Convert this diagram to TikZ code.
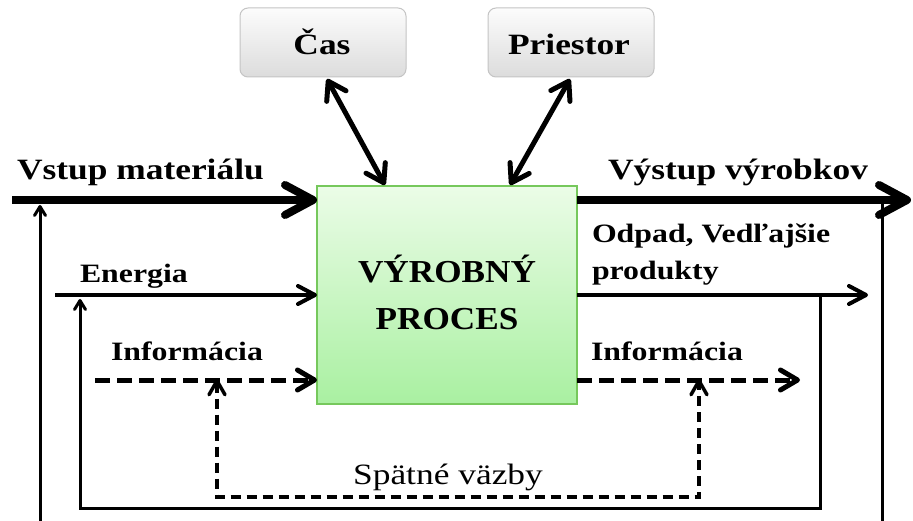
\documentclass[tikz,border=0pt]{standalone}
\usepackage{fontspec}
\setmainfont{Liberation Serif}[FakeStretch=1.2]
\newfontfamily\procfont{Liberation Serif}[FakeStretch=1.1]
\usetikzlibrary{arrows.meta}

\definecolor{procTop}{HTML}{EBFCE7}
\definecolor{procBot}{HTML}{A9F0A1}
\definecolor{procLine}{HTML}{76C85C}
\definecolor{tagTop}{HTML}{FCFCFC}
\definecolor{tagBot}{HTML}{DCDCDC}
\definecolor{tagLine}{HTML}{C4C4C4}

\begin{document}
\begin{tikzpicture}[x=1pt,y=-1pt,
  every node/.style={inner sep=0pt,outer sep=0pt},
  procbox/.style={draw=procLine,line width=1.2pt,top color=procTop,bottom color=procBot,
    minimum width=260pt,minimum height=218pt},
  tagbox/.style={draw=tagLine,line width=1pt,rounded corners=8pt,top color=tagTop,bottom color=tagBot,
    minimum width=166pt,minimum height=69pt},
  lbl/.style={font=\fontsize{26.5}{30}\selectfont\bfseries,anchor=base west},
  biglbl/.style={font=\fontsize{29.5}{34}\selectfont\bfseries,anchor=base west},
  tagtxt/.style={font=\fontsize{29.5}{34}\selectfont\bfseries,anchor=base},
  proctxt/.style={font=\procfont\fontsize{32}{38}\selectfont\bfseries,anchor=base},
  mainflow/.style={line width=8pt,line cap=butt,-{Straight Barb[length=28pt,width=30pt,round]}},
  medflow/.style={line width=4pt,line cap=butt,-{Straight Barb[length=17pt,width=18pt,round]}},
  infoflow/.style={line width=5pt,line cap=butt,dash pattern=on 15pt off 7pt,
    -{Straight Barb[length=17pt,width=20pt,round]}},
  loopline/.style={line width=3pt,line join=miter},
  looptip/.style={-{Straight Barb[length=9pt,width=11pt,round]}},
  fbline/.style={line width=3.5pt,dash pattern=on 10pt off 6pt,
    {Straight Barb[length=14pt,width=16pt,round]}-{Straight Barb[length=14pt,width=16pt,round]}},
  linkarrow/.style={line width=5pt,
    {Straight Barb[length=17pt,width=22pt,round]}-{Straight Barb[length=17pt,width=22pt,round]}}
]
\useasboundingbox (0,0) rectangle (913,521);
\clip (0,0) rectangle (913,521);

% central process block
\node[procbox] (proc) at (447,295) {};
\node[proctxt] (procA) at (447,283) {VÝROBNÝ};
\node[proctxt] (procB) at (447,330) {PROCES};

% time and space boxes
\node[tagbox] (cas) at (323,42.5) {};
\node[tagtxt] (casT) at (322,55) {Čas};
\node[tagbox] (pri) at (571,42.5) {};
\node[tagtxt] (priT) at (569,55) {Priestor};

\coordinate (casA) at (327,79);
\coordinate (casB) at (385,185);
\coordinate (priA) at (570,79);
\coordinate (priB) at (510,185);
\draw[linkarrow] (casA) -- (casB);
\draw[linkarrow] (priA) -- (priB);

% labels
\node[biglbl] (inT) at (17,180) {Vstup materiálu};
\node[biglbl] (outT) at (608,180) {Výstup výrobkov};
\node[lbl] (enT) at (80,283) {Energia};
\node[lbl] (wasteA) at (592,243) {Odpad, Vedľajšie};
\node[lbl] (wasteB) at (592,280) {produkty};
\node[lbl] (infoL) at (111,360) {Informácia};
\node[lbl] (infoR) at (591,360) {Informácia};
\node[font=\fontsize{29.5}{34}\selectfont,anchor=base] (fbT) at (448,484) {Spätné väzby};

% material flow
\coordinate (inS) at (12,200);
\coordinate (outE) at (911,200);
\draw[mainflow] (inS) -- (proc.west |- inS);
\draw[mainflow] (proc.east |- outE) -- (outE);

% energy and waste flow
\coordinate (enS) at (55,295);
\coordinate (wsE) at (868,295);
\draw[medflow] (enS) -- (proc.west |- enS);
\draw[medflow] (proc.east |- wsE) -- (wsE);

% information flow
\coordinate (ifS) at (95,380);
\coordinate (ifE) at (800,380);
\draw[infoflow] (ifS) -- (proc.west |- ifS);
\draw[infoflow] (proc.east |- ifE) -- (ifE);

% outer loop: products back to material input
\coordinate (olR) at (882,200);
\coordinate (olL) at (40,205);
\draw[loopline,looptip] (olR) -- (882,540) -- (40,540) -- (olL);

% inner loop: waste back to energy input
\coordinate (ilR) at (820,295);
\coordinate (ilL) at (80,299);
\draw[loopline,looptip] (ilR) -- (820,508) -- (80,508) -- (ilL);

% information feedback
\coordinate (fbL) at (217,379);
\coordinate (fbR) at (699,379);
\draw[fbline] (fbL) -- (217,497) -- (699,497) -- (fbR);
\end{tikzpicture}
\end{document}
